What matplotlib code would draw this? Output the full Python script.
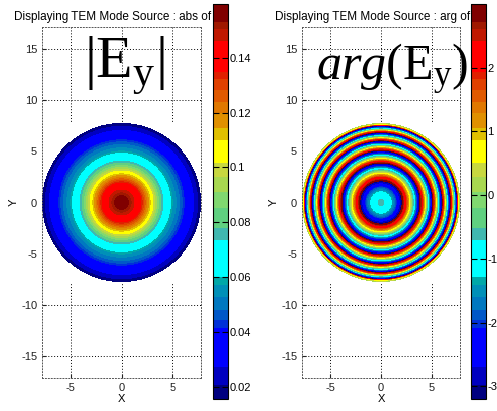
import numpy as np
import matplotlib
matplotlib.use("Agg")
import matplotlib.pyplot as plt
from matplotlib.colors import ListedColormap, to_rgb

# ---------------- data ----------------
# |Ey| radial profile (radius in axis units, magnitude)
abs_r = [0.0, 1.0, 2.0, 3.0, 4.0, 5.0, 6.0, 7.0, 7.8]
abs_v = [0.160, 0.150, 0.134, 0.106, 0.076, 0.058, 0.044, 0.029, 0.016]

# unwrapped phase of Ey along the radius (rad)
arg_r = [0.0, 0.5, 1.0, 1.5, 2.0, 2.5, 3.0, 3.5, 4.0, 4.5, 5.0, 5.5, 6.0, 6.5, 7.0, 7.5, 7.65, 7.8]
arg_v = [-0.60, -0.75, -1.19, -1.94, -2.98, -4.31, -5.95, -7.88, -10.10, -12.63,
         -15.45, -18.57, -21.98, -25.70, -29.71, -34.5, -37.1, -37.5]

disk_radius = 7.8
abs_ticks = [0.02, 0.04, 0.06, 0.08, 0.1, 0.12, 0.14]
abs_clim = (0.0156, 0.1596)
arg_ticks = [-3, -2, -1, 0, 1, 2]
arg_clim = (-3.2, 3.0)
x_ticks = [-5, 0, 5]
y_ticks = [-15, -10, -5, 0, 5, 10, 15]
titles = ["Displaying TEM Mode Source : abs of Ey", "Displaying TEM Mode Source : arg of Ey"]

# ---------------- banded colormap (top -> bottom, with band heights) ----------------
bands = [
    ("#800000", 18), ("#a01800", 7), ("#c01800", 12), ("#ff0000", 31),
    ("#e02000", 7), ("#e04000", 11), ("#e05a00", 12), ("#e07800", 11),
    ("#e09000", 15), ("#e0c000", 12), ("#ffff00", 23), ("#c8d840", 14),
    ("#a8d850", 15), ("#80d870", 16), ("#60d080", 20), ("#40b8b0", 12),
    ("#00ffff", 37), ("#00a8a8", 8), ("#0090b8", 12), ("#0078c0", 13),
    ("#0058c8", 10), ("#0030d8", 8), ("#0000ff", 39), ("#0000c0", 18),
    ("#000080", 14),
]
cols = []
for c, h in reversed(bands):
    cols += [to_rgb(c)] * h
cmap = ListedColormap(cols)
cmap.set_bad("white")

plt.rcParams["font.family"] = ["Liberation Sans", "DejaVu Sans"]
plt.rcParams["mathtext.fontset"] = "custom"
plt.rcParams["mathtext.rm"] = "Liberation Serif"
plt.rcParams["mathtext.it"] = "Liberation Serif:italic"

fig = plt.figure(figsize=(4.97, 4.11), dpi=100)

W, H = 497.0, 411.0
def fr(x0, y0, x1, y1):
    return [x0 / W, 1 - y1 / H, (x1 - x0) / W, (y1 - y0) / H]

ax_pos = [fr(42, 27, 201, 378), fr(302, 27, 460, 378)]
cb_pos = [fr(213, 4, 228, 399), fr(471, 4, 486, 399)]

# grid
g = np.arange(-7.85, 7.86, 0.1)
X, Y = np.meshgrid(g, g)
R = np.hypot(X, Y)
Zabs = np.interp(R, abs_r, abs_v)
Zabs = np.where(R <= disk_radius, Zabs, np.nan)
Zarg = np.interp(R, arg_r, arg_v)
Zarg = (Zarg + np.pi) % (2 * np.pi) - np.pi
Zarg = np.where(R <= disk_radius, Zarg, np.nan)

fields = [(Zabs, abs_clim, abs_ticks), (Zarg, arg_clim, arg_ticks)]
labels = [r"$|\mathrm{E}_{\mathrm{y}}|$", r"$arg(\mathrm{E}_{\mathrm{y}})$"]
label_xy = [(0.3, 13.4), (1.1, 13.0)]
label_fs = [43, 36]

for i in range(2):
    Z, clim, cticks = fields[i]
    ax = fig.add_axes(ax_pos[i])
    m = ax.pcolormesh(X, Y, Z, cmap=cmap, vmin=clim[0], vmax=clim[1],
                      shading="nearest", antialiased=False, rasterized=True)
    ax.set_xlim(-7.8, 7.8)
    ax.set_ylim(-17.2, 17.2)
    ax.set_xticks(x_ticks)
    ax.set_yticks(y_ticks)
    ax.set_xticklabels([str(t) for t in x_ticks])
    ax.set_yticklabels([str(t) for t in y_ticks])
    ax.set_axisbelow(True)
    ax.grid(True, color="black", linestyle=(0, (1, 2)), linewidth=0.7)
    ax.tick_params(direction="in", length=3, labelsize=8, colors="#222222",
                   top=False, right=False)
    for s in ax.spines.values():
        s.set_linestyle((0, (1, 2)))
        s.set_linewidth(0.7)
        s.set_color("#555555")
    ax.set_xlabel("X", fontsize=8, labelpad=1)
    ax.set_ylabel("Y", fontsize=8, labelpad=2)
    ax.set_title(titles[i], fontsize=8.5, pad=5)
    ax.text(label_xy[i][0], label_xy[i][1], labels[i], fontsize=label_fs[i],
            ha="center", va="center", color="black")

    cax = fig.add_axes(cb_pos[i])
    cb = fig.colorbar(m, cax=cax)
    cb.set_ticks(cticks)
    cb.set_ticklabels([str(t) for t in cticks])
    cax.tick_params(direction="in", length=4, labelsize=8, left=True, right=True,
                    pad=1)
    cb.outline.set_linewidth(0.8)

fig.savefig("out.png", dpi=100)
